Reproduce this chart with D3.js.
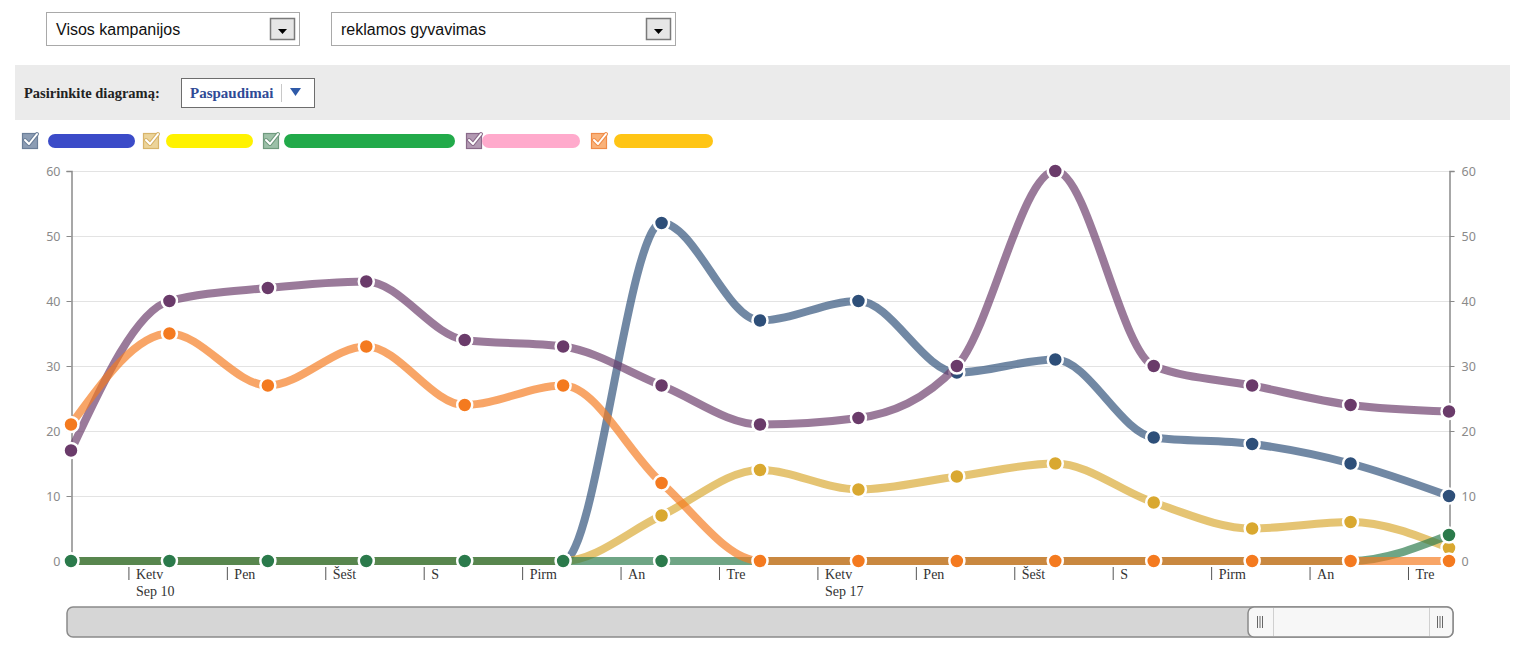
<!DOCTYPE html>
<html>
<head>
<meta charset="utf-8">
<script src="https://cdn.jsdelivr.net/npm/d3@7"></script>
<style>
  body { margin: 0; background: #fff; }
  svg { display: block; }
</style>
</head>
<body>
<div id="chart"></div>
<script>
// data
var dates = ["2015-09-09T10:00", "2015-09-10T10:00", "2015-09-11T10:00", "2015-09-12T10:00",
             "2015-09-13T10:00", "2015-09-14T10:00", "2015-09-15T10:00", "2015-09-16T10:00",
             "2015-09-17T10:00", "2015-09-18T10:00", "2015-09-19T10:00", "2015-09-20T10:00",
             "2015-09-21T10:00", "2015-09-22T10:00", "2015-09-23T10:00"];
var blueValues   = [0, 0, 0, 0, 0, 0, 52, 37, 40, 29, 31, 19, 18, 15, 10];
var yellowValues = [0, 0, 0, 0, 0, 0, 7, 14, 11, 13, 15, 9, 5, 6, 2];
var greenValues  = [0, 0, 0, 0, 0, 0, 0, 0, 0, 0, 0, 0, 0, 0, 4];
var purpleValues = [17, 40, 42, 43, 34, 33, 27, 21, 22, 30, 60, 30, 27, 24, 23];
var orangeValues = [21, 35, 27, 33, 24, 27, 12, 0, 0, 0, 0, 0, 0, 0, 0];
var yTicks = [0, 10, 20, 30, 40, 50, 60];
var dayNames = ["S", "Pirm", "An", "Tre", "Ketv", "Pen", "Šešt"];
var monthNames = ["Sau", "Vas", "Kov", "Bal", "Geg", "Bir", "Lie", "Rgp", "Sep", "Spa", "Lap", "Grd"];
var campaignLabel = "Visos kampanijos";
var periodLabel = "reklamos gyvavimas";
var pickerLabel = "Pasirinkite diagramą:";
var pickerValue = "Paspaudimai";

// series, drawn in legend order
var series = [
    {values: blueValues,   dot: "#2e4f79", legend: "#3b4bc8", box: "#8c9db4", boxLine: "#6b7f99", blob: [48, 135]},
    {values: yellowValues, dot: "#d9a830", legend: "#fff200", box: "#ecd49a", boxLine: "#d8b46a", blob: [166, 253]},
    {values: greenValues,  dot: "#2b7a4b", legend: "#22aa4a", box: "#9cc0a8", boxLine: "#6f9a7e", blob: [284, 455]},
    {values: purpleValues, dot: "#6a3b6a", legend: "#ffaacc", box: "#b39ab3", boxLine: "#8a6a8a", blob: [482, 580]},
    {values: orangeValues, dot: "#f47a1f", legend: "#ffc515", box: "#f9b27a", boxLine: "#f08c48", blob: [614, 713]}
];
var boxX = [22, 143, 263, 466, 591];

var width = 1533, height = 646;
var parse = d3.timeParse("%Y-%m-%dT%H:%M");
var times = dates.map(parse);

var svg = d3.select("#chart").append("svg")
    .attr("width", width)
    .attr("height", height);

// ---- top dropdowns
function dropdown(x, w, label) {
    var g = svg.append("g").attr("transform", "translate(" + x + ",12)");
    g.append("rect").attr("x", 0.5).attr("y", 0.5).attr("width", w).attr("height", 33)
        .attr("fill", "#fff").attr("stroke", "#a9a9a9");
    g.append("text").attr("x", 10).attr("y", 23)
        .style("font-family", "Liberation Sans, Arial, sans-serif")
        .style("font-size", "16px").attr("fill", "#111").text(label);
    g.append("rect").attr("x", w - 28.5).attr("y", 6.5).attr("width", 24).attr("height", 21)
        .attr("fill", "#e6e6e6").attr("stroke", "#7a7a7a").attr("stroke-width", 1.5);
    g.append("path").attr("d", "M" + (w - 21) + ",17 h9 l-4.5,5 z").attr("fill", "#000");
}
dropdown(46, 253, campaignLabel);
dropdown(331, 344, periodLabel);

// ---- grey bar with chart picker
svg.append("rect").attr("x", 15).attr("y", 65).attr("width", 1495).attr("height", 55).attr("fill", "#ebebeb");
svg.append("text").attr("x", 24).attr("y", 98)
    .style("font-family", "Liberation Serif, serif").style("font-size", "14.5px").style("font-weight", "bold")
    .attr("fill", "#222").text(pickerLabel);
svg.append("rect").attr("x", 181.5).attr("y", 78.5).attr("width", 133).attr("height", 29)
    .attr("fill", "#fff").attr("stroke", "#6d6d6d");
svg.append("text").attr("x", 190).attr("y", 98)
    .style("font-family", "Liberation Serif, serif").style("font-size", "15px").style("font-weight", "bold")
    .attr("fill", "#2f4a96").text(pickerValue);
svg.append("line").attr("x1", 281.5).attr("x2", 281.5).attr("y1", 84).attr("y2", 102).attr("stroke", "#c8c8c8");
svg.append("path").attr("d", "M290,88 h11 l-5.5,8 z").attr("fill", "#2f5aa8");

// ---- legend
series.forEach(function (s, i) {
    var bx = boxX[i];
    svg.append("rect").attr("x", bx + 0.5).attr("y", 133.5).attr("width", 15).attr("height", 15)
        .attr("fill", s.box).attr("stroke", s.boxLine).attr("stroke-width", 1.2);
    var check = "M" + (bx + 3) + ",140 l4,4 l8,-10";
    svg.append("path").attr("d", check).attr("fill", "none").attr("stroke", s.boxLine)
        .attr("stroke-width", 4).attr("stroke-linecap", "round").attr("stroke-linejoin", "round");
    svg.append("path").attr("d", check).attr("fill", "none").attr("stroke", "#fff")
        .attr("stroke-width", 2).attr("stroke-linecap", "round").attr("stroke-linejoin", "round");
    svg.append("line").attr("x1", s.blob[0] + 7).attr("x2", s.blob[1] - 7).attr("y1", 141).attr("y2", 141)
        .attr("stroke", s.legend).attr("stroke-width", 14).attr("stroke-linecap", "round");
});

// ---- scales
var x = d3.scaleTime().domain([times[0], times[times.length - 1]]).range([71, 1449]);
var y = d3.scaleLinear().domain([0, 60]).range([561, 171]);

// grid
svg.append("g").selectAll("line").data(yTicks.slice(1)).enter().append("line")
    .attr("x1", 71).attr("x2", 1449)
    .attr("y1", function (d) { return y(d) + 0.5; })
    .attr("y2", function (d) { return y(d) + 0.5; })
    .attr("stroke", "#e3e3e3");

// y axes
var leftAxis = svg.append("g").attr("transform", "translate(71.5,0)")
    .call(d3.axisLeft(y).tickValues(yTicks).tickSize(5).tickPadding(6));
var rightAxis = svg.append("g").attr("transform", "translate(1449.5,0)")
    .call(d3.axisRight(y).tickValues(yTicks).tickSize(5).tickPadding(7));
[leftAxis, rightAxis].forEach(function (a) {
    a.select(".domain").attr("stroke", "#8a8a8a").attr("stroke-width", 1.5);
    a.selectAll(".tick line").attr("stroke", "#8a8a8a");
    a.selectAll(".tick text").attr("fill", "#8a8a8a")
        .style("font-family", "Noto Sans, Open Sans, sans-serif").style("font-size", "12.5px");
});

// x axis (day ticks)
var days = d3.timeDay.range(d3.timeDay.ceil(times[0]), times[times.length - 1]);
var xAxis = svg.append("g").attr("transform", "translate(0,567)")
    .call(d3.axisBottom(x).tickValues(days).tickSize(13).tickFormat(function (d) { return dayNames[d.getDay()]; }));
xAxis.select(".domain").remove();
xAxis.selectAll(".tick line").attr("stroke", "#555");
xAxis.selectAll(".tick text")
    .attr("text-anchor", "start").attr("x", 7).attr("y", 2).attr("dy", "0.71em")
    .attr("fill", "#333")
    .style("font-family", "Liberation Serif, serif").style("font-size", "14px");
xAxis.selectAll(".tick").filter(function (d) { return d.getDay() === 4; })
    .append("text")
    .attr("text-anchor", "start")
    .attr("x", 7).attr("y", 19).attr("dy", "0.71em")
    .attr("fill", "#333")
    .style("font-family", "Liberation Serif, serif").style("font-size", "14px")
    .text(function (d) { return monthNames[d.getMonth()] + " " + d.getDate(); });

// ---- lines and dots
var line = d3.line()
    .x(function (d, i) { return x(times[i]); })
    .y(function (d) { return y(d); })
    .curve(d3.curveMonotoneX);

series.forEach(function (s) {
    var g = svg.append("g");
    g.append("path").datum(s.values)
        .attr("d", line)
        .attr("fill", "none")
        .attr("stroke", s.dot)
        .attr("stroke-opacity", 0.68)
        .attr("stroke-width", 8)
        .attr("stroke-linecap", "round");
    g.selectAll("circle").data(s.values).enter().append("circle")
        .attr("cx", function (d, i) { return x(times[i]); })
        .attr("cy", function (d) { return y(d); })
        .attr("r", 7.5)
        .attr("fill", s.dot)
        .attr("stroke", "#fff")
        .attr("stroke-width", 2.5);
});

// ---- scrollbar
svg.append("rect").attr("x", 67).attr("y", 607).attr("width", 1386).attr("height", 30).attr("rx", 6)
    .attr("fill", "#d6d6d6").attr("stroke", "#8a8a8a").attr("stroke-width", 1.5);
svg.append("rect").attr("x", 1248).attr("y", 607).attr("width", 205).attr("height", 30).attr("rx", 6)
    .attr("fill", "#f7f7f7").attr("stroke", "#8a8a8a").attr("stroke-width", 1.5);
[1273.5, 1429.5].forEach(function (lx) {
    svg.append("line").attr("x1", lx).attr("x2", lx).attr("y1", 608).attr("y2", 636).attr("stroke", "#d0d0d0");
});
[1257, 1437].forEach(function (gx) {
    for (var k = 0; k < 3; k++) {
        svg.append("line").attr("x1", gx + k * 2.5 + 0.5).attr("x2", gx + k * 2.5 + 0.5)
            .attr("y1", 616).attr("y2", 628).attr("stroke", "#666");
    }
});
</script>
</body>
</html>
